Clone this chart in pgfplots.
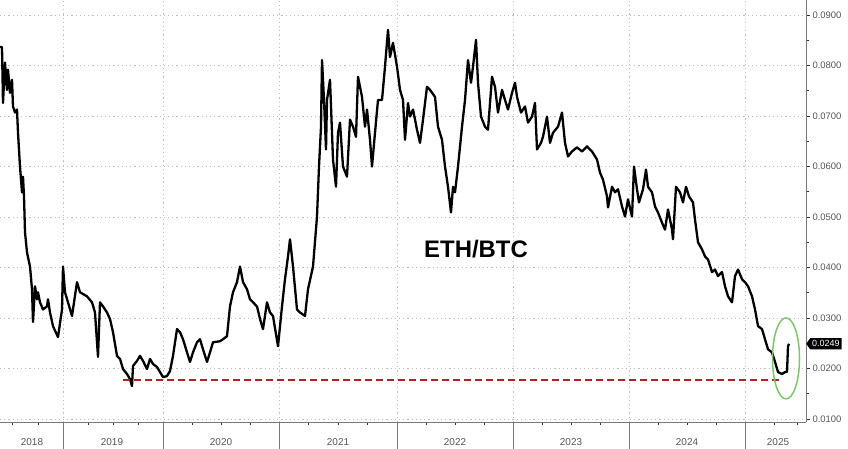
\documentclass[border=0pt]{standalone}
\usepackage{pgfplots}
\pgfplotsset{compat=1.18}
\usepackage{fontspec}
\setmainfont{Liberation Sans}
\usetikzlibrary{shapes.symbols}
\definecolor{gridgray}{RGB}{190,190,190}
\definecolor{axgray}{RGB}{120,120,120}
\definecolor{lblgray}{RGB}{85,85,85}
\definecolor{dashred}{RGB}{178,34,34}
\definecolor{ellgreen}{RGB}{130,196,110}
\begin{document}
\begin{tikzpicture}
\begin{axis}[
  scale only axis, width=806bp, height=422bp,
  xmin=0, xmax=806, ymin=0.0094, ymax=0.093,
  axis x line*=bottom, axis y line*=right,
  axis line style={axgray, line width=0.8bp},
  xtick={63,163,279,397,513,629,745}, xticklabels={},
  minor xtick={12,38,88,113,138,192,221,250,308.5,338,367.5,426,455,484,542,571,600,658,687,716,774,797},
  ytick={0.01,0.02,0.03,0.04,0.05,0.06,0.07,0.08,0.09},
  minor ytick={0.015,0.025,0.035,0.045,0.055,0.065,0.075,0.085},
  tick align=outside, major tick length=4bp, minor tick length=3bp,
  tick style={black!80, line width=0.8bp},
  grid=major,
  major grid style={gridgray, line width=0.9bp, dash pattern=on 1.2bp off 3bp},
  /pgf/number format/assume math mode=true,
  yticklabel style={/pgf/number format/fixed, /pgf/number format/precision=4, /pgf/number format/fixed zerofill, font=\fontsize{9.5}{10}\selectfont, text=lblgray, xshift=-1bp},
  scaled y ticks=false,
  extra x ticks={32,112,221,338,455,571,687,778},
  extra x tick labels={2018,2019,2020,2021,2022,2023,2024,2025},
  extra x tick style={grid=none, major tick length=0pt, tick label style={font=\fontsize{10}{10}\selectfont, text=lblgray, yshift=-13bp}},
  clip=false,
]
\addplot[black, line width=2.3bp, line join=round] coordinates {
(0,0.0837)(2,0.0837)(3,0.0726)(5,0.0806)(7,0.0752)(8,0.0792)(10,0.0746)(12,0.0772)(13,0.0719)(15,0.0707)(17,0.0713)(18,0.0667)(20,0.0600)(22,0.0549)(23,0.0580)(24,0.0541)(25,0.0470)(27,0.0430)(30,0.0402)(32,0.0357)(33,0.0292)(35,0.0363)(37,0.0337)(38,0.0351)(40,0.0331)(43,0.0317)(47,0.0323)(48,0.0337)(50,0.0311)(53,0.0284)(58,0.0262)(62,0.0317)(63,0.0402)(65,0.0351)(68,0.0331)(72,0.0304)(77,0.0371)(80,0.0351)(87,0.0343)(92,0.0331)(95,0.0311)(98,0.0223)(100,0.0331)(103,0.0323)(107,0.0311)(110,0.0298)(113,0.0272)(117,0.0225)(120,0.0219)(123,0.0199)(127,0.0189)(130,0.0179)(132,0.0165)(133,0.0205)(137,0.0215)(140,0.0225)(143,0.0215)(147,0.0199)(150,0.0219)(153,0.0209)(157,0.0203)(160,0.0193)(163,0.0183)(167,0.0185)(170,0.0195)(173,0.0225)(177,0.0278)(180,0.0272)(183,0.0258)(187,0.0232)(190,0.0213)(193,0.0232)(197,0.0252)(200,0.0258)(203,0.0238)(207,0.0213)(210,0.0232)(213,0.0252)(220,0.0254)(223,0.0258)(227,0.0264)(230,0.0323)(233,0.0351)(237,0.0371)(240,0.0402)(243,0.0371)(247,0.0357)(250,0.0337)(253,0.0331)(257,0.0323)(260,0.0298)(263,0.0278)(267,0.0331)(270,0.0311)(273,0.0304)(278,0.0244)(282,0.0323)(285,0.0377)(288,0.0422)(290,0.0456)(293,0.0402)(297,0.0317)(300,0.0311)(305,0.0304)(308,0.0357)(313,0.0402)(317,0.0501)(319,0.0600)(321,0.0679)(322,0.0811)(324,0.0732)(326,0.0634)(327,0.0732)(330,0.0772)(332,0.0667)(333,0.0614)(336,0.0560)(338,0.0667)(340,0.0687)(343,0.0600)(347,0.0580)(350,0.0693)(353,0.0679)(356,0.0659)(358,0.0778)(362,0.0738)(365,0.0679)(367,0.0713)(370,0.0653)(372,0.0600)(375,0.0667)(378,0.0732)(382,0.0732)(385,0.0798)(388,0.0871)(390,0.0817)(393,0.0845)(397,0.0798)(400,0.0752)(403,0.0732)(405,0.0653)(408,0.0726)(410,0.0699)(413,0.0713)(417,0.0673)(420,0.0647)(423,0.0693)(427,0.0758)(430,0.0752)(435,0.0738)(438,0.0679)(442,0.0653)(445,0.0600)(448,0.0560)(451,0.0509)(453,0.0560)(455,0.0549)(458,0.0600)(462,0.0679)(465,0.0732)(468,0.0811)(471,0.0766)(473,0.0798)(476,0.0851)(478,0.0766)(481,0.0699)(485,0.0679)(488,0.0673)(492,0.0778)(495,0.0758)(498,0.0707)(502,0.0752)(505,0.0732)(508,0.0713)(512,0.0746)(515,0.0766)(517,0.0738)(521,0.0707)(525,0.0719)(528,0.0687)(532,0.0699)(535,0.0726)(537,0.0634)(541,0.0647)(543,0.0659)(547,0.0699)(550,0.0647)(553,0.0667)(558,0.0679)(562,0.0707)(565,0.0647)(568,0.0620)(572,0.0630)(577,0.0638)(582,0.0630)(587,0.0640)(592,0.0630)(597,0.0614)(600,0.0588)(603,0.0574)(607,0.0541)(608,0.0519)(612,0.0560)(615,0.0549)(618,0.0555)(622,0.0521)(625,0.0501)(628,0.0535)(632,0.0501)(634,0.0600)(637,0.0555)(639,0.0529)(643,0.0555)(646,0.0594)(648,0.0560)(652,0.0549)(655,0.0521)(658,0.0509)(662,0.0489)(665,0.0475)(668,0.0515)(672,0.0475)(673,0.0456)(676,0.0560)(680,0.0549)(683,0.0529)(686,0.0560)(689,0.0541)(693,0.0529)(695,0.0495)(698,0.0450)(702,0.0436)(705,0.0422)(708,0.0416)(712,0.0391)(715,0.0396)(718,0.0383)(722,0.0391)(725,0.0363)(728,0.0343)(732,0.0331)(735,0.0383)(738,0.0396)(742,0.0377)(745,0.0371)(748,0.0363)(752,0.0343)(755,0.0317)(758,0.0284)(762,0.0278)(765,0.0258)(768,0.0238)(772,0.0232)(775,0.0213)(778,0.0193)(782,0.0189)(785,0.0193)(787,0.0193)(788,0.0244)(789,0.0249)
};
\addplot[dashred, line width=2.2bp, dash pattern=on 7bp off 4bp] coordinates {(123,0.0177)(782,0.0177)};
\pgfplotsinvokeforeach{63,163,279,397,513,629,745}{
  \draw[axgray, line width=0.8bp] (axis cs:#1,0.0094) -- ++(0,-27bp);
}
\draw[ellgreen, line width=1.5bp] (axis cs:786,0.0220) ellipse [x radius=13.5bp, y radius=40.5bp];
\node[font=\fontsize{24}{24}\selectfont\bfseries] at (axis cs:476,0.0436) {ETH/BTC};
\node[signal, signal to=west, signal pointer angle=110, fill=black, text=white, font=\fontsize{9}{9}\selectfont, inner xsep=2bp, inner ysep=2.5bp, anchor=west] at (axis cs:806,0.0249) {0.0249};
\end{axis}
\pgfresetboundingbox
\useasboundingbox (0,-27bp) rectangle (848bp,422bp);
\end{tikzpicture}
\end{document}
